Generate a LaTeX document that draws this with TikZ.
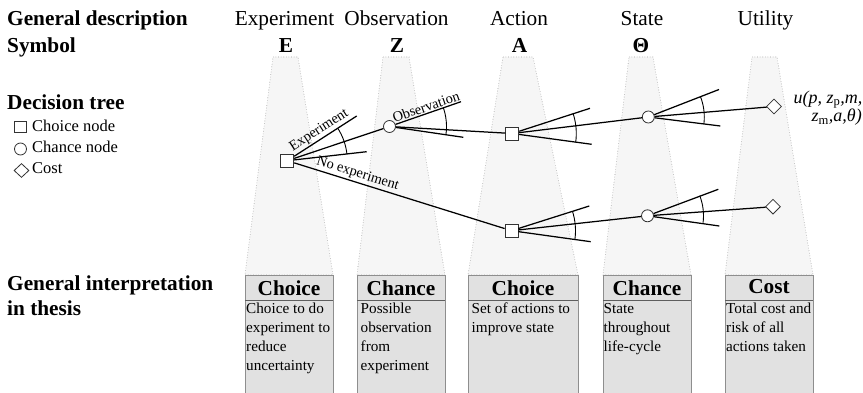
\documentclass[tikz,border=0pt]{standalone}
\usepackage{fontspec}
\setmainfont{Liberation Serif}
\usetikzlibrary{shapes.geometric,calc}
\definecolor{shadefill}{HTML}{F6F6F6}
\definecolor{shadeline}{HTML}{C4C4C4}
\definecolor{boxfill}{HTML}{E1E1E1}
\definecolor{boxline}{HTML}{8E8E8E}
\definecolor{sepline}{HTML}{5E5E5E}
\definecolor{nodeline}{HTML}{333333}
\begin{document}
\begin{tikzpicture}[x=1pt,y=1pt,
  lbl/.style={inner sep=0pt, anchor=base west, font=\fontsize{21.3}{25}\selectfont\bfseries},
  colhead/.style={inner sep=0pt, anchor=base, font=\fontsize{21.3}{25}\selectfont},
  sym/.style={inner sep=0pt, anchor=base, font=\fontsize{21.3}{25}\selectfont\bfseries},
  legtxt/.style={inner sep=0pt, anchor=base west, font=\fontsize{16.5}{20}\selectfont},
  shade/.style={fill=shadefill, draw=shadeline, dotted, line width=0.6pt},
  hbox/.style={fill=boxfill, draw=boxline, line width=0.9pt},
  htxt/.style={inner sep=0pt, anchor=base, font=\fontsize{21.3}{25}\selectfont\bfseries},
  btxt/.style={inner sep=0pt, anchor=north west, align=left, font=\fontsize{15.2}{19}\selectfont},
  choice/.style={draw=nodeline, fill=white, minimum width=13pt, minimum height=13pt, inner sep=0pt, line width=0.8pt},
  chance/.style={circle, draw=nodeline, fill=white, minimum size=12pt, inner sep=0pt, line width=0.8pt},
  cost/.style={diamond, draw=nodeline, fill=white, minimum width=15pt, minimum height=15pt, inner sep=0pt, line width=0.8pt},
  branch/.style={line width=1.25pt},
  fanarc/.style={line width=0.9pt},
  elbl/.style={font=\fontsize{14.3}{16}\selectfont, sloped, anchor=south, inner sep=1.2pt},
  utxt/.style={inner sep=0pt, anchor=base east, font=\fontsize{18}{20}\selectfont\itshape}
]
\useasboundingbox[fill=white] (0,0) rectangle (863,-393);

% shaded trapezoids
\fill[shade] (273,-57) -- (298,-57) -- (333,-275) -- (245,-275) -- cycle;
\fill[shade] (383,-57) -- (409,-57) -- (445,-275) -- (357,-275) -- cycle;
\fill[shade] (503,-57) -- (533,-57) -- (578,-275) -- (468,-275) -- cycle;
\fill[shade] (629,-57) -- (653,-57) -- (691,-275) -- (603,-275) -- cycle;
\fill[shade] (752,-57) -- (777,-57) -- (813,-275) -- (725,-275) -- cycle;
\draw[shade, fill=none] (273,-57) -- (298,-57) -- (333,-275) -- (245,-275) -- cycle;
\draw[shade, fill=none] (383,-57) -- (409,-57) -- (445,-275) -- (357,-275) -- cycle;
\draw[shade, fill=none] (503,-57) -- (533,-57) -- (578,-275) -- (468,-275) -- cycle;
\draw[shade, fill=none] (629,-57) -- (653,-57) -- (691,-275) -- (603,-275) -- cycle;
\draw[shade, fill=none] (752,-57) -- (777,-57) -- (813,-275) -- (725,-275) -- cycle;

% left labels
\node[lbl] (gd) at (7,-26) {General description};
\node[lbl] (sy) at (7,-52.7) {Symbol};
\node[lbl] (dt) at (7,-110) {Decision tree};
\node[lbl] (gi) at (7,-290) {General interpretation};
\node[lbl] (it) at (7,-315) {in thesis};

% legend
\node[choice, minimum width=12pt, minimum height=11pt] (lgsq) at (20.5,-126.5) {};
\node[chance] (lgci) at (20.5,-149) {};
\node[cost, minimum width=15pt, minimum height=14pt] (lgdi) at (21.5,-170.5) {};
\node[legtxt] (lgt1) at (32,-131.7) {Choice node};
\node[legtxt] (lgt2) at (32,-153) {Chance node};
\node[legtxt] (lgt3) at (32,-174) {Cost};

% column headers
\node[colhead] (h1) at (284.5,-26) {Experiment};
\node[colhead] (h2) at (396.5,-26) {Observation};
\node[colhead] (h3) at (519,-26) {Action};
\node[colhead] (h4) at (642,-26) {State};
\node[colhead] (h5) at (765.5,-26) {Utility};
\node[sym] (s1) at (286,-52.7) {E};
\node[sym] (s2) at (397,-52.7) {Z};
\node[sym] (s3) at (519.5,-52.7) {A};
\node[sym] (s4) at (641,-52.7) {Θ};

% interpretation boxes
\draw[hbox] (245,-300) rectangle (333,-393);
\draw[hbox] (357,-300) rectangle (445,-393);
\draw[hbox] (468,-300) rectangle (578,-393);
\draw[hbox] (603,-300) rectangle (691,-393);
\draw[hbox] (725,-300) rectangle (813,-393);
\draw[hbox] (245,-275) rectangle (333,-300);
\draw[hbox] (357,-275) rectangle (445,-300);
\draw[hbox] (468,-275) rectangle (578,-300);
\draw[hbox] (603,-275) rectangle (691,-300);
\draw[hbox] (725,-275) rectangle (813,-300);
\foreach \l/\r in {245/333,357/445,468/578,603/691,725/813}
  \draw[sepline, line width=0.9pt] (\l,-300) -- (\r,-300);
\node[htxt] (b1h) at (289,-295) {Choice};
\node[htxt] (b2h) at (401,-295) {Chance};
\node[htxt] (b3h) at (523,-295) {Choice};
\node[htxt] (b4h) at (647,-295) {Chance};
\node[htxt] (b5h) at (769,-294) {Cost};
\node[btxt] (b1t) at (246,-302.5) {\rule{0pt}{11pt}Choice to do\\experiment to\\reduce\\uncertainty};
\node[btxt] (b2t) at (360.5,-302.5) {\rule{0pt}{11pt}Possible\\observation\\from\\experiment};
\node[btxt] (b3t) at (471.5,-302.5) {\rule{0pt}{11pt}Set of actions to\\improve state};
\node[btxt] (b4t) at (603.5,-302.5) {\rule{0pt}{11pt}State\\throughout\\life-cycle};
\node[btxt] (b5t) at (726,-302.5) {\rule{0pt}{11pt}Total cost and\\risk of all\\actions taken};

% decision tree nodes
\node[choice] (sq1) at (287.3,-160.7) {};
\node[chance] (c1) at (389.5,-126.5) {};
\node[choice] (sq2) at (512.3,-133.5) {};
\node[chance] (c2) at (648.3,-117) {};
\node[cost] (d1) at (774,-106.5) {};
\node[choice] (sq3) at (511.5,-230.7) {};
\node[chance] (c3) at (647.5,-215.8) {};
\node[cost] (d2) at (773,-206.7) {};

% fan end points
\coordinate (eu) at (356.7,-116);
\coordinate (el) at (366.7,-151.7);
\coordinate (zu) at (461,-101.7);
\coordinate (zl) at (463.3,-137.3);
\coordinate (au) at (590,-108.3);
\coordinate (al) at (591.7,-144.3);
\coordinate (tu) at (719,-89.5);
\coordinate (tl) at (720.3,-126);
\coordinate (bu) at (589.3,-206);
\coordinate (bl) at (590.7,-241.7);
\coordinate (su) at (718.3,-189.3);
\coordinate (sl) at (719.3,-226);

% branches
\draw[branch] (sq1) -- node[elbl, pos=0.47] (lexp) {Experiment} (eu);
\draw[branch] (sq1) -- (c1);
\draw[branch] (sq1) -- (el);
\draw[branch] (sq1) -- node[elbl, pos=0.29] (lnoexp) {No experiment} (sq3);
\draw[branch] (c1) -- node[elbl, pos=0.5] (lobs) {Observation} (zu);
\draw[branch] (c1) -- (sq2);
\draw[branch] (c1) -- (zl);
\draw[branch] (sq2) -- (au);
\draw[branch] (sq2) -- (c2);
\draw[branch] (sq2) -- (al);
\draw[branch] (c2) -- (tu);
\draw[branch] (c2) -- (d1);
\draw[branch] (c2) -- (tl);
\draw[branch] (sq3) -- (bu);
\draw[branch] (sq3) -- (c3);
\draw[branch] (sq3) -- (bl);
\draw[branch] (c3) -- (su);
\draw[branch] (c3) -- (d2);
\draw[branch] (c3) -- (sl);

% fan arcs
\draw[fanarc] ($(sq1.center)+(32.8:60)$) arc[start angle=32.8, end angle=6.5, radius=60];
\draw[fanarc] ($(c1.center)+(19.1:57)$) arc[start angle=19.1, end angle=-8.3, radius=57];
\draw[fanarc] ($(sq2.center)+(17.8:64)$) arc[start angle=17.8, end angle=-7.8, radius=64];
\draw[fanarc] ($(c2.center)+(21:56)$) arc[start angle=21, end angle=-7, radius=56];
\draw[fanarc] ($(sq3.center)+(17.6:64)$) arc[start angle=17.6, end angle=-7.9, radius=64];
\draw[fanarc] ($(c3.center)+(21:56)$) arc[start angle=21, end angle=-7, radius=56];

% utility expression
\node[utxt] (u1) at (862.5,-103.3) {u(p, z\textsubscript{\upshape p},m,};
\node[utxt] (u2) at (862,-121.7) {z\textsubscript{\upshape m},a,θ)};
\end{tikzpicture}
\end{document}
